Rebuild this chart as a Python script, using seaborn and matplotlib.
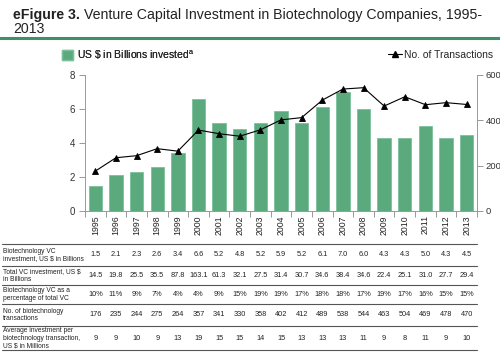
import numpy as np
import pandas as pd
import matplotlib
matplotlib.use("Agg")
import matplotlib.pyplot as plt
import matplotlib.transforms as mtransforms
from matplotlib.lines import Line2D
from matplotlib.patches import Patch
import seaborn as sns

years = [str(y) for y in range(1995, 2014)]
bio_vc = [1.5, 2.1, 2.3, 2.6, 3.4, 6.6, 5.2, 4.8, 5.2, 5.9, 5.2, 6.1, 7.0, 6.0, 4.3, 4.3, 5.0, 4.3, 4.5]
total_vc = [14.5, 19.8, 25.5, 35.5, 87.8, 163.1, 61.3, 32.1, 27.5, 31.4, 30.7, 34.6, 38.4, 34.6, 22.4, 25.1, 31.0, 27.7, 29.4]
pct_vc = [10, 11, 9, 7, 4, 4, 9, 15, 19, 19, 17, 18, 18, 17, 19, 17, 16, 15, 15]
transactions = [176, 235, 244, 275, 264, 357, 341, 330, 358, 402, 412, 489, 538, 544, 463, 504, 469, 478, 470]
avg_inv = [9, 9, 10, 9, 13, 19, 15, 15, 14, 15, 13, 13, 13, 11, 9, 8, 11, 9, 10]

row_labels = [
    "Biotechnology VC\ninvestment, US \\$ in Billions",
    "Total VC investment, US \\$\nin Billions",
    "Biotechnology VC as a\npercentage of total VC",
    "No. of biotechnology\ntransactions",
    "Average investment per\nbiotechnology transaction,\nUS \\$ in Millions",
]

df = pd.DataFrame({"year": years, "bn": bio_vc, "tx": transactions})

sns.set_theme(style="white")
plt.rcParams["font.family"] = ["Liberation Sans", "DejaVu Sans"]

W, H = 500, 354
fig = plt.figure(figsize=(W / 100, H / 100), dpi=100)

def fx(px):
    return px / W

def fy(py):
    return 1 - py / H

ax = fig.add_axes([fx(85), fy(211), fx(477) - fx(85), fy(75) - fy(211)])
bar_color = "#5BAA7E"
sns.barplot(data=df, x="year", y="bn", color=bar_color, width=0.65,
            saturation=1, edgecolor="#7cc09a", linewidth=0.6, ax=ax)
ax.set_xlim(-0.5, len(years) - 0.5)
ax.set_ylim(0, 8)
ax.set_yticks([0, 2, 4, 6, 8])
ax.set_xlabel("")
ax.set_ylabel("")
ax.set_xticks(np.arange(len(years) + 1) - 0.5, minor=True)
ax.tick_params(axis="x", which="minor", length=4, color="#888888", width=0.6, direction="out", bottom=True)
ax.tick_params(axis="x", which="major", length=0, labelsize=6.3, labelrotation=90, pad=3, labelcolor="#222222")
ax.tick_params(axis="y", length=4, width=0.6, color="#888888", labelsize=7, labelcolor="#333333", left=True, pad=3)
for s in ["top", "right"]:
    ax.spines[s].set_visible(False)
for s in ["left", "bottom"]:
    ax.spines[s].set_color("#999999")
    ax.spines[s].set_linewidth(0.7)

ax2 = ax.twinx()
sns.pointplot(data=df, x="year", y="tx", color="black", markers="^",
              linestyles="-", ax=ax2, markersize=5, linewidth=0.8)
ax2.set_ylim(0, 600)
ax2.set_yticks([0, 200, 400, 600])
ax2.set_xlim(-0.5, len(years) - 0.5)
ax2.set_ylabel("")
ax2.set_xlabel("")
ax2.tick_params(axis="y", length=4, width=0.6, color="#888888", labelsize=6.8, labelcolor="#333333", right=True, pad=2)
for s in ["top", "left", "bottom"]:
    ax2.spines[s].set_visible(False)
ax2.spines["right"].set_visible(True)
ax2.spines["right"].set_color("#999999")
ax2.spines["right"].set_linewidth(0.7)

# Title
t1 = fig.text(fx(13), fy(15), "eFigure 3.", fontsize=10.2, fontweight="bold", color="#222222", va="center", ha="left")
fig.canvas.draw()
bb = t1.get_window_extent(fig.canvas.get_renderer())
x_next = (bb.x1 + 4) / W
fig.text(x_next, fy(15), "Venture Capital Investment in Biotechnology Companies, 1995-",
         fontsize=10.2, color="#222222", va="center", ha="left")
fig.text(fx(13), fy(29), "2013", fontsize=10.2, color="#222222", va="center", ha="left")
fig.add_artist(Line2D([0, 1], [fy(38), fy(38)], transform=fig.transFigure, color="#3E8F6C", lw=2.2))

# Legends
leg1 = fig.legend(handles=[Patch(facecolor=bar_color, edgecolor="#7cc09a", label="US \\$ in Billions invested$^{\\mathregular{a}}$")],
                  loc="center left", bbox_to_anchor=(fx(58), fy(55)), frameon=False, fontsize=7.5,
                  handlelength=1.0, handleheight=1.0, handletextpad=0.4, borderaxespad=0)
fig.add_artist(leg1)
fig.legend(handles=[Line2D([], [], color="black", marker="^", markersize=5, lw=0.8, label="No. of Transactions")],
           loc="center right", bbox_to_anchor=(fx(497), fy(55)), frameon=False, fontsize=7.5,
           handlelength=1.3, handletextpad=0.2, borderaxespad=0)

# Table
blend = mtransforms.blended_transform_factory(ax.transData, fig.transFigure)
line_ys = [244, 266, 285, 304, 326, 350]
for ly in line_ys:
    fig.add_artist(Line2D([fx(2), fx(477)], [fy(ly), fy(ly)], transform=fig.transFigure,
                          color="#555555", lw=0.8))

rows = [
    [f"{v:.1f}" for v in bio_vc],
    [f"{v:.1f}" for v in total_vc],
    [f"{v}%" for v in pct_vc],
    [f"{v}" for v in transactions],
    [f"{v}" for v in avg_inv],
]
row_centers = [255, 275.5, 294.5, 315, 338]
for label, vals, cy in zip(row_labels, rows, row_centers):
    fig.text(fx(3), fy(cy), label, fontsize=4.8, color="#222222", va="center", ha="left", linespacing=1.15)
    for i, v in enumerate(vals):
        ax.text(i, fy(cy), v, transform=blend, fontsize=5.3, color="#222222", ha="center", va="center", clip_on=False)

fig.savefig("out.png", dpi=100)
